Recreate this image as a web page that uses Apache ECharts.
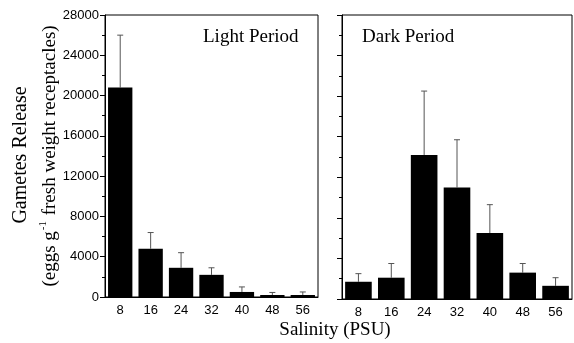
<!DOCTYPE html>
<html>
<head>
<meta charset="utf-8">
<script src="https://cdn.jsdelivr.net/npm/echarts@6/dist/echarts.min.js"></script>
<style>
html,body{margin:0;padding:0;background:#fff;}
#main{width:574px;height:343px;}
</style>
</head>
<body>
<div id="main"></div>
<script>
// salinity categories (PSU)
var salinity = ['8', '16', '24', '32', '40', '48', '56'];
// light period: mean and upper end of error bar
var lightMean = [20800, 4800, 2900, 2200, 500, 200, 200];
var lightUpper = [26000, 6400, 4400, 2900, 1000, 450, 500];
// dark period
var darkMean = [1700, 2100, 14200, 11000, 6500, 2600, 1300];
var darkUpper = [2500, 3500, 20500, 15700, 9300, 3500, 2100];
var yTicks = { min: 0, max: 28000, interval: 4000 };

var chart = echarts.init(document.getElementById('main'));

function errData(mean, upper) {
    var out = [];
    for (var i = 0; i < mean.length; i++) out.push([i, mean[i], upper[i]]);
    return out;
}

function renderErr(params, api) {
    var i = api.value(0);
    var p0 = api.coord([i, api.value(1)]);
    var p1 = api.coord([i, api.value(2)]);
    var c = 3;
    return {
        type: 'group',
        children: [
            { type: 'line', shape: { x1: p0[0], y1: p0[1], x2: p1[0], y2: p1[1] }, style: { stroke: '#555', lineWidth: 1 } },
            { type: 'line', shape: { x1: p1[0] - c, y1: p1[1], x2: p1[0] + c, y2: p1[1] }, style: { stroke: '#555', lineWidth: 1 } }
        ]
    };
}

var tickFont = { fontFamily: 'Liberation Sans', fontSize: 13, color: '#000' };

function xAxisOf(idx) {
    return {
        type: 'category', gridIndex: idx, data: salinity,
        axisLine: { lineStyle: { color: '#000' } },
        axisTick: { inside: false, length: 4, lineStyle: { color: '#000' } },
        axisLabel: Object.assign({ margin: 7 }, tickFont)
    };
}

function yAxisOf(idx, showLabel) {
    return {
        type: 'value', gridIndex: idx, min: yTicks.min, max: yTicks.max, interval: yTicks.interval,
        axisLine: { show: true, lineStyle: { color: '#000' } },
        axisTick: { show: true, length: 5, lineStyle: { color: '#000' } },
        minorTick: { show: true, splitNumber: 2, length: 3, lineStyle: { color: '#000' } },
        splitLine: { show: false },
        axisLabel: Object.assign({ show: showLabel, margin: 6, formatter: function (v) { return String(v); } }, tickFont)
    };
}

var option = {
    animation: false,
    grid: [
        { left: 105, top: 15, width: 213, height: 282, show: true, borderColor: '#000', borderWidth: 1 },
        { left: 342, top: 15, width: 230, height: 284, show: true, borderColor: '#000', borderWidth: 1 }
    ],
    xAxis: [xAxisOf(0), xAxisOf(1)],
    yAxis: [yAxisOf(0, true), yAxisOf(1, false)],
    series: [
        { type: 'bar', xAxisIndex: 0, yAxisIndex: 0, data: lightMean, barCategoryGap: '20%', itemStyle: { color: '#000' } },
        { type: 'custom', xAxisIndex: 0, yAxisIndex: 0, data: errData(lightMean, lightUpper), renderItem: renderErr, z: 1 },
        { type: 'bar', xAxisIndex: 1, yAxisIndex: 1, data: darkMean, barCategoryGap: '19%', itemStyle: { color: '#000' } },
        { type: 'custom', xAxisIndex: 1, yAxisIndex: 1, data: errData(darkMean, darkUpper), renderItem: renderErr, z: 1 }
    ],
    graphic: [
        { type: 'text', left: 203, top: 28, style: { text: 'Light Period', font: '19px "Liberation Serif"', fill: '#000' } },
        { type: 'text', left: 362, top: 28, style: { text: 'Dark Period', font: '19px "Liberation Serif"', fill: '#000' } },
        { type: 'text', x: 335, y: 330, style: { text: 'Salinity (PSU)', font: '19px "Liberation Serif"', fill: '#000', align: 'center', verticalAlign: 'middle' } },
        { type: 'text', x: 21, y: 155, rotation: Math.PI / 2, style: { text: 'Gametes Release', font: '20px "Liberation Serif"', fill: '#000', align: 'center', verticalAlign: 'middle' } },
        {
            type: 'text', x: 49, y: 156, rotation: Math.PI / 2,
            style: {
                text: '{a|(eggs g}{s|-1}{a| fresh weight receptacles)}',
                align: 'center', verticalAlign: 'middle',
                rich: {
                    a: { fontFamily: 'Liberation Serif', fontSize: 19, color: '#000', verticalAlign: 'bottom' },
                    s: { fontFamily: 'Liberation Serif', fontSize: 11, color: '#000', verticalAlign: 'bottom', padding: [0, 1, 11, 1] }
                }
            }
        }
    ]
};

chart.setOption(option);
</script>
</body>
</html>
